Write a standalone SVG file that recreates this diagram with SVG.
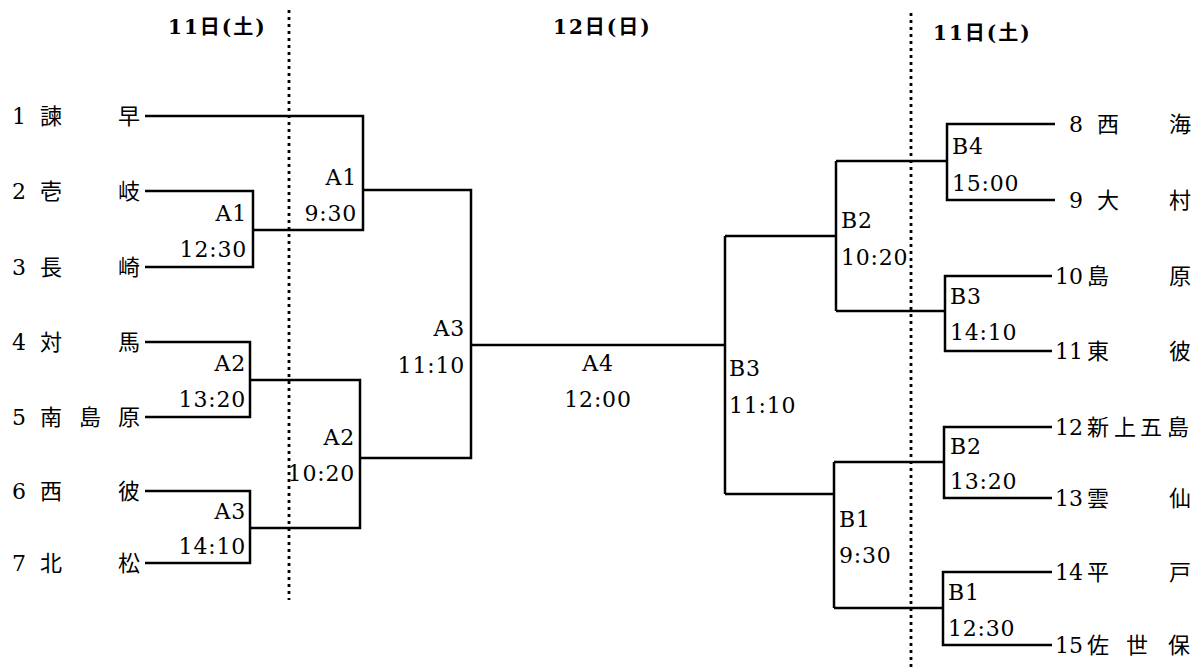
<svg xmlns="http://www.w3.org/2000/svg" width="1204" height="672" viewBox="0 0 1204 672">
<style>
.hd{font-family:"DejaVu Serif","Noto Sans CJK JP",serif;font-size:20px;font-weight:bold;fill:#000;letter-spacing:2px}
.tm{font-family:"DejaVu Serif","Noto Sans CJK JP",serif;font-size:22px;fill:#000}
.lb{font-family:"DejaVu Serif",serif;font-size:22px;fill:#000;letter-spacing:0.8px}
.ln{fill:none;stroke:#000;stroke-width:2.5}
.dv{fill:none;stroke:#000;stroke-width:2.8;stroke-dasharray:3 4}
</style>
<rect width="1204" height="672" fill="#fff"/>
<g id="headers">
<text class="hd" x="168" y="34">11日(土)</text>
<text class="hd" x="553" y="34">12日(日)</text>
<text class="hd" x="933" y="40">11日(土)</text>
</g>
<g id="dividers">
<line class="dv" x1="289" y1="10" x2="289" y2="600"/>
<line class="dv" x1="911" y1="13" x2="911" y2="668"/>
</g>
<g id="connectors">
<path class="ln" d="M145 116 H363 V230 H253 M145 191 H253 V267 H145 M363 190 H471 V458 H360 M145 342 H250 V417 H145 M250 380 H360 V528 H250 M145 491 H250 V563 H145 M471 345 H725 M725 236 V494 M725 236 H836 M836 161 V311 M725 494 H834 M834 462 V608"/>
<path class="ln" d="M836 161 H947 M1055 124 H947 V200 H1055 M836 311 H945 M1052 276 H945 V351 H1052 M834 462 H944 M1052 427 H944 V498 H1052 M834 608 H943 M1052 572 H943 V645 H1052"/>
</g>
<g id="team-1"><text class="tm" y="124"><tspan x="12">1</tspan><tspan x="40">諫</tspan><tspan x="118">早</tspan></text></g>
<g id="team-2"><text class="tm" y="199"><tspan x="12">2</tspan><tspan x="40">壱</tspan><tspan x="118">岐</tspan></text></g>
<g id="team-3"><text class="tm" y="275"><tspan x="12">3</tspan><tspan x="40">長</tspan><tspan x="118">崎</tspan></text></g>
<g id="team-4"><text class="tm" y="350"><tspan x="12">4</tspan><tspan x="40">対</tspan><tspan x="118">馬</tspan></text></g>
<g id="team-5"><text class="tm" y="425"><tspan x="12">5</tspan><tspan x="40">南</tspan><tspan x="79">島</tspan><tspan x="118">原</tspan></text></g>
<g id="team-6"><text class="tm" y="499"><tspan x="12">6</tspan><tspan x="40">西</tspan><tspan x="118">彼</tspan></text></g>
<g id="team-7"><text class="tm" y="571"><tspan x="12">7</tspan><tspan x="40">北</tspan><tspan x="118">松</tspan></text></g>
<g id="team-8"><text class="tm" y="132"><tspan x="1069">8</tspan><tspan x="1097">西</tspan><tspan x="1169">海</tspan></text></g>
<g id="team-9"><text class="tm" y="208"><tspan x="1069">9</tspan><tspan x="1097">大</tspan><tspan x="1169">村</tspan></text></g>
<g id="team-10"><text class="tm" y="284"><tspan x="1055">10</tspan><tspan x="1087">島</tspan><tspan x="1169">原</tspan></text></g>
<g id="team-11"><text class="tm" y="359"><tspan x="1055">11</tspan><tspan x="1087">東</tspan><tspan x="1169">彼</tspan></text></g>
<g id="team-12"><text class="tm" y="435"><tspan x="1055">12</tspan><tspan x="1087">新</tspan><tspan x="1114">上</tspan><tspan x="1140">五</tspan><tspan x="1167">島</tspan></text></g>
<g id="team-13"><text class="tm" y="506"><tspan x="1055">13</tspan><tspan x="1087">雲</tspan><tspan x="1169">仙</tspan></text></g>
<g id="team-14"><text class="tm" y="580"><tspan x="1055">14</tspan><tspan x="1087">平</tspan><tspan x="1169">戸</tspan></text></g>
<g id="team-15"><text class="tm" y="653"><tspan x="1055">15</tspan><tspan x="1087">佐</tspan><tspan x="1126">世</tspan><tspan x="1168">保</tspan></text></g>
<g id="match-A1-1230" text-anchor="end"><text class="lb" x="247" y="221">A1</text><text class="lb" x="247" y="257">12:30</text></g>
<g id="match-A1-930" text-anchor="end"><text class="lb" x="357" y="185">A1</text><text class="lb" x="357" y="221">9:30</text></g>
<g id="match-A2-1320" text-anchor="end"><text class="lb" x="246" y="371">A2</text><text class="lb" x="246" y="407">13:20</text></g>
<g id="match-A2-1020" text-anchor="end"><text class="lb" x="355" y="445">A2</text><text class="lb" x="355" y="481">10:20</text></g>
<g id="match-A3-1410" text-anchor="end"><text class="lb" x="246" y="519">A3</text><text class="lb" x="246" y="554">14:10</text></g>
<g id="match-A3-1110" text-anchor="end"><text class="lb" x="465" y="336">A3</text><text class="lb" x="465" y="373">11:10</text></g>
<g id="match-A4" text-anchor="middle"><text class="lb" x="598" y="371">A4</text><text class="lb" x="598" y="407">12:00</text></g>
<g id="match-B3-1110"><text class="lb" x="729" y="376">B3</text><text class="lb" x="729" y="413">11:10</text></g>
<g id="match-B2-1020"><text class="lb" x="841" y="228">B2</text><text class="lb" x="841" y="265">10:20</text></g>
<g id="match-B4-1500"><text class="lb" x="952" y="154">B4</text><text class="lb" x="952" y="191">15:00</text></g>
<g id="match-B3-1410"><text class="lb" x="950" y="304">B3</text><text class="lb" x="950" y="340">14:10</text></g>
<g id="match-B1-930"><text class="lb" x="839" y="527">B1</text><text class="lb" x="839" y="563">9:30</text></g>
<g id="match-B2-1320"><text class="lb" x="950" y="454">B2</text><text class="lb" x="950" y="489">13:20</text></g>
<g id="match-B1-1230"><text class="lb" x="948" y="600">B1</text><text class="lb" x="948" y="636">12:30</text></g>
</svg>
